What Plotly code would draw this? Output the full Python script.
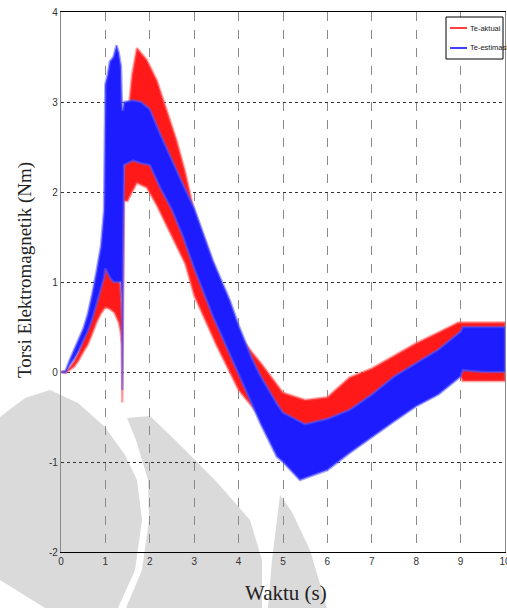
import plotly.graph_objects as go

# ---- Electromagnetic torque envelopes (Nm) versus time (s) ----
# Te-aktual (measured torque): lower / upper envelope of the ripple band
t_aktual = [0, 0.1, 0.2, 0.3, 0.4, 0.5, 0.6, 0.7, 0.8, 0.9, 1.0, 1.1, 1.2, 1.3, 1.34,
            1.37, 1.38, 1.39, 1.42, 1.5, 1.6, 1.71, 1.93, 2.16, 2.38, 2.6, 2.8, 3.0,
            3.5, 4.0, 4.3, 4.5, 5.0, 5.5, 6.0, 6.5, 7.0, 7.5, 8.0, 8.5, 8.95, 9.05, 9.5, 10.0]
aktual_hi = [0.0, 0.01, 0.05, 0.12, 0.22, 0.36, 0.5, 0.72, 0.9, 1.05, 1.2, 1.18, 1.15, 1.05, 0.95,
             0.7, 0.6, 1.8, 2.5, 2.8, 3.3, 3.6, 3.47, 3.24, 2.91, 2.58, 2.22, 1.78,
             1.1, 0.42, 0.22, 0.1, -0.23, -0.31, -0.28, -0.06, 0.04, 0.18, 0.32, 0.44, 0.55, 0.55, 0.55, 0.55]
aktual_lo = [0.0, -0.01, 0.02, 0.06, 0.13, 0.22, 0.3, 0.42, 0.55, 0.65, 0.72, 0.7, 0.66, 0.55, 0.45,
             0.3, -0.34, 0.3, 1.9, 1.9, 2.0, 2.1, 2.05, 1.85, 1.62, 1.4, 1.2, 0.85,
             0.3, -0.2, -0.38, -0.5, -0.7, -0.8, -0.75, -0.6, -0.45, -0.3, -0.15, -0.05, 0.0, -0.1, -0.1, -0.1]

# Te-estimasi (estimated torque)
t_estimasi = [0, 0.1, 0.2, 0.3, 0.4, 0.5, 0.6, 0.7, 0.8, 0.9, 0.97, 1.0, 1.05, 1.1, 1.18,
              1.25, 1.3, 1.35, 1.37, 1.38, 1.39, 1.42, 1.62, 1.8, 2.0, 2.23, 2.5, 2.75,
              3.0, 3.42, 3.8, 4.0, 4.3, 4.5, 4.86, 5.0, 5.38, 5.5, 6.0, 6.5, 7.0, 7.5, 8.0,
              8.5, 9.0, 9.05, 9.5, 10.0]
estimasi_hi = [0.0, 0.01, 0.14, 0.25, 0.36, 0.48, 0.64, 0.86, 1.12, 1.4, 1.8, 3.2, 3.3, 3.45, 3.5,
               3.63, 3.55, 3.4, 3.0, 2.9, 2.9, 3.0, 3.02, 3.0, 2.92, 2.65, 2.35, 2.08,
               1.82, 1.24, 0.8, 0.52, 0.15, -0.05, -0.35, -0.45, -0.55, -0.58, -0.52, -0.42, -0.25, -0.05, 0.1,
               0.25, 0.45, 0.5, 0.5, 0.5]
estimasi_lo = [0.0, -0.005, 0.08, 0.15, 0.24, 0.34, 0.45, 0.58, 0.74, 0.92, 1.05, 1.15, 1.1, 1.05, 1.0,
               1.0, 1.0, 1.0, 0.8, -0.2, 0.8, 2.3, 2.35, 2.32, 2.3, 2.05, 1.8, 1.5,
               1.15, 0.62, 0.2, -0.02, -0.36, -0.58, -0.94, -1.0, -1.2, -1.18, -1.09, -0.9, -0.72, -0.55, -0.38,
               -0.25, -0.05, 0.02, 0.0, 0.0]

x_ticks = [0, 1, 2, 3, 4, 5, 6, 7, 8, 9, 10]
y_ticks = [-2, -1, 0, 1, 2, 3, 4]

W, H = 507, 608
ML, MR, MT, MB = 61, 2, 12, 56
PW, PH = W - ML - MR, H - MT - MB


def px(x, y):
    """Pixel position -> paper coordinates."""
    return (x - ML) / PW, (H - MB - y) / PH


def band(t, lo, hi):
    return list(t) + list(t[::-1]), list(hi) + list(lo[::-1])


fig = go.Figure()

bx, by = band(t_aktual, aktual_lo, aktual_hi)
fig.add_trace(go.Scatter(x=bx, y=by, mode="lines", fill="toself",
                         fillcolor="rgb(255,25,25)",
                         line=dict(color="rgba(255,90,90,0.55)", width=2.5),
                         hoverinfo="skip", showlegend=False))

bx, by = band(t_estimasi, estimasi_lo, estimasi_hi)
fig.add_trace(go.Scatter(x=bx, y=by, mode="lines", fill="toself",
                         fillcolor="rgb(28,28,255)",
                         line=dict(color="rgba(90,90,255,0.55)", width=2.5),
                         hoverinfo="skip", showlegend=False))

# light grey watermark shapes in the background
wm_polys = [
    [(0, 417), (25, 398), (50, 390), (78, 403), (105, 427), (125, 455), (137, 480),
     (142, 520), (135, 570), (118, 608), (45, 608), (0, 580)],
    [(127, 418), (150, 416), (175, 440), (215, 480), (250, 520), (262, 560), (262, 608),
     (126, 608), (142, 570), (149, 520), (148, 480), (136, 440)],
    [(280, 495), (292, 512), (310, 550), (327, 608), (268, 608), (272, 560)],
]
shapes = []
for poly in wm_polys:
    pts = [px(x, y) for x, y in poly]
    path = "M " + " L ".join(f"{a:.4f},{b:.4f}" for a, b in pts) + " Z"
    shapes.append(dict(type="path", xref="paper", yref="paper", path=path,
                       fillcolor="rgb(218,218,218)", line=dict(width=0), layer="below"))

# legend box
x0, y0 = px(446, 17)
x1, y1 = px(503, 59)
shapes.append(dict(type="rect", xref="paper", yref="paper", x0=x0, y0=y0, x1=x1, y1=y1,
                   fillcolor="white", line=dict(color="black", width=1), layer="above"))
annotations = []
for yy, col, name in [(28, "red", "Te-aktual"), (48, "blue", "Te-estimasi")]:
    a0, b0 = px(450, yy)
    a1, _ = px(467, yy)
    shapes.append(dict(type="line", xref="paper", yref="paper", x0=a0, y0=b0, x1=a1, y1=b0,
                       line=dict(color=col, width=1.5), layer="above"))
    tx, _ = px(468, yy)
    annotations.append(dict(x=tx, y=b0, xref="paper", yref="paper", text=name,
                            showarrow=False, xanchor="left", yanchor="middle",
                            font=dict(family="Liberation Sans Narrow, Arial Narrow, Liberation Sans, sans-serif",
                                      size=7.5, color="#222")))

# axis titles
ax, ay = px(25, 270)
annotations.append(dict(x=ax, y=ay, xref="paper", yref="paper", text="Torsi Elektromagnetik (Nm)",
                        textangle=-90, showarrow=False, xanchor="center", yanchor="middle",
                        font=dict(family="Liberation Serif, Times New Roman, serif", size=19,
                                  color="#222")))
ax, ay = px(286, 593)
annotations.append(dict(x=ax, y=ay, xref="paper", yref="paper", text="Waktu (s)",
                        showarrow=False, xanchor="center", yanchor="middle",
                        font=dict(family="Liberation Serif, Times New Roman, serif", size=21,
                                  color="#222")))

tick_font = dict(family="Liberation Sans Narrow, Arial Narrow, sans-serif", size=10, color="#333")

fig.update_layout(
    width=W, height=H,
    margin=dict(l=ML, r=MR, t=MT, b=MB, autoexpand=False),
    paper_bgcolor="white",
    plot_bgcolor="rgba(0,0,0,0)",
    shapes=shapes,
    annotations=annotations,
    showlegend=False,
    xaxis=dict(range=[0, 10], tickvals=x_ticks, ticktext=[str(v) for v in x_ticks],
               showgrid=True, gridcolor="#8a8a8a", griddash="dash", gridwidth=1,
               zeroline=False, showline=True, linecolor="black", linewidth=1.2, mirror=True,
               ticks="", tickfont=tick_font, ticklabeloverflow="allow", automargin=False,
               layer="above traces"),
    yaxis=dict(range=[-2, 4], tickvals=y_ticks, ticktext=[str(v) for v in y_ticks],
               showgrid=True, gridcolor="#333333", griddash="dot", gridwidth=1,
               zeroline=False, showline=True, linecolor="#8a8a8a", linewidth=1.2, mirror=True,
               ticks="", tickfont=tick_font, automargin=False),
)

fig.write_html("out.html")
